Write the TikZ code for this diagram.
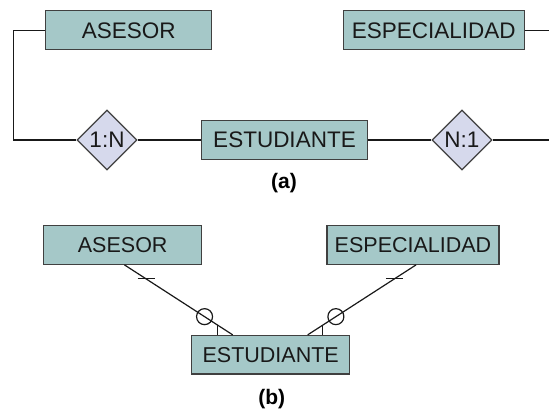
\documentclass[tikz,border=0pt]{standalone}
\usepackage{fontspec}
\setmainfont{Liberation Sans}
\usetikzlibrary{shapes.geometric, positioning, calc}

\definecolor{entfill}{HTML}{A5C8C8}
\definecolor{relfill}{HTML}{D6D9EC}

\begin{document}
\begin{tikzpicture}[
  x=1pt, y=-1pt,
  line width=1.2pt,
  entidad/.style={
    draw=black!75,
    fill=entfill,
    minimum height=39pt,
    inner sep=0pt,
    font=\fontsize{22.5}{26}\selectfont,
    text=black!90
  },
  entidadb/.style={
    entidad,
    minimum height=38.5pt,
    font=\fontsize{21.5}{25}\selectfont
  },
  relacion/.style={
    diamond,
    draw=black!75,
    fill=relfill,
    minimum size=60pt,
    inner sep=0pt,
    font=\fontsize{22.5}{26}\selectfont,
    text=black!90
  },
  enlace/.style={
    draw=black!90,
    line width=1.2pt
  },
  rotulo/.style={
    font=\bfseries\fontsize{21}{25}\selectfont
  }
]
  \useasboundingbox (0,0) rectangle (549,409);

  % (a)
  \node[entidad, minimum width=166pt] (as) at (128.7,30.3) {ASESOR};
  \node[entidad, minimum width=181pt] (es) at (433.8,30.3) {ESPECIALIDAD};
  \node[entidad, minimum width=166pt] (st) at (284.5,140) {ESTUDIANTE};
  \node[relacion] (r1) at (107,140) {1:N};
  \node[relacion] (r2) at (462,140) {N:1};

  \coordinate (fe) at (549,30.3);
  \coordinate (fr) at (549,140);

  \draw[enlace] (as.west) -- ++(-32,0) |- (r1.west);
  \draw[enlace] (r1) -- (st);
  \draw[enlace] (st) -- (r2);
  \draw[enlace] (r2.east) -- (fr);
  \draw[enlace] (es.east) -- (fe);

  \node[rotulo] (la) at (284,183) {(a)};

  % (b)
  \node[entidadb, minimum width=158pt] (as2) at (122.7,245) {ASESOR};
  \node[entidadb, minimum width=172pt] (es2) at (413,245) {ESPECIALIDAD};
  \node[entidadb, minimum width=158pt] (st2) at (270.7,354.7) {ESTUDIANTE};

  \coordinate (a1) at ($(as2.south west)+(81.3,0)$);
  \coordinate (a2) at ($(st2.north west)+(41.6,0)$);
  \coordinate (e1) at ($(es2.south west)+(89.7,0)$);
  \coordinate (e2) at ($(st2.north west)+(116.6,0)$);

  \draw[enlace] (a1) -- (a2);
  \draw[enlace] (e1) -- (e2);

  % uno (barra)
  \draw[enlace] ($(a1)!0.2!(a2)+(-8.5,0)$) -- +(17,0);
  \draw[enlace] ($(e1)!0.2!(e2)+(-8.5,0)$) -- +(17,0);

  % cero o muchos
  \draw[enlace] ($(a1)!0.74!(a2)$) circle (8);
  \draw[enlace] ($(e1)!0.74!(e2)$) circle (8);
  \draw[enlace] ($(a2)+(-15,0)$) -- +(0,-10);
  \draw[enlace] ($(e2)+(15,0)$) -- +(0,-10);

  \node[rotulo] (lb) at (271.7,399) {(b)};
\end{tikzpicture}
\end{document}
